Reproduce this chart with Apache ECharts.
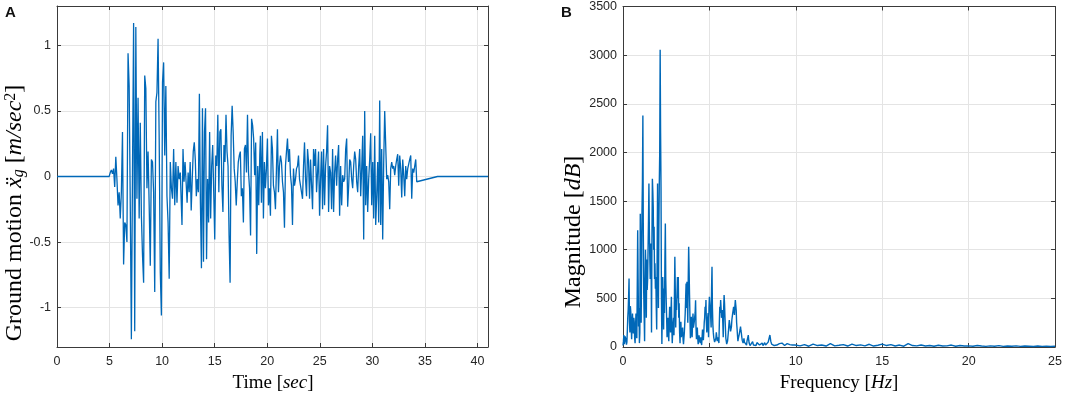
<!DOCTYPE html>
<html>
<head>
<meta charset="utf-8">
<script src="https://cdn.jsdelivr.net/npm/echarts@6/dist/echarts.min.js"></script>
<style>html,body{margin:0;padding:0;background:#fff}#c{width:1065px;height:394px}</style>
</head>
<body>
<div id="c"></div>
<script>
// ---------- Panel A: ground motion (m/sec^2) ----------
const accLeadIn = [[0, 0], [4.96, 0]];
const accSegStarts = [4.96, 11.89, 19.35, 27.08];
const accSegEnds = [11.73, 19.29, 26.98, 34.22];
const accSeg1 = [0.0,0.03,0.05,0.02,0.06,-0.08,0.15,-0.02,-0.22,-0.12,-0.32,-0.12,0.34,-0.67,-0.35,-0.37,-0.50,0.94,0.69,-0.22,-1.24,0.03,1.17,-1.18,1.14,-0.17,0.60,-0.32,0.41,-0.30,-0.60,-0.81,0.77,0.67,-0.09,0.19,-0.22,-0.68,0.13,0.11,-0.12,-0.88,0.57,0.64,1.05,0.29,-0.73,-1.06,0.72,0.87,0.16,0.69,-0.15,-0.35,-0.78,0.11,-0.09,-0.17,0.21,-0.22,0.11,-0.20,0.08,-0.02,0.03];
const accSeg2 = [-0.37,0.21,-0.04,0.11,-0.04,-0.20,0.03,-0.12,0.11,-0.26,-0.02,0.19,0.26,0.13,-0.15,-0.02,-0.12,0.63,-0.20,-0.70,0.52,-0.65,0.34,0.52,-0.63,-0.02,-0.35,0.34,-0.32,0.08,0.24,-0.12,-0.48,0.16,0.08,0.47,-0.12,0.34,0.36,-0.07,-0.27,0.24,0.11,0.47,0.19,0.08,-0.45,-0.81,0.31,0.54,0.34,0.06,-0.04,-0.22,-0.04,0.11,0.16,0.19,-0.15,-0.09,-0.35,0.21,0.24,0.03,0.47,0.03,-0.09,-0.45,0.44,0.39,0.29,0.01,0.26,-0.59,0.08,-0.22,0.16];
const accSeg3 = [0.31,-0.20,0.34,-0.32,0.11,-0.09,0.06,0.29,-0.22,-0.09,-0.30,0.31,0.21,-0.07,-0.12,-0.25,0.06,0.36,-0.12,0.08,0.16,0.11,-0.04,-0.12,-0.39,0.08,0.19,0.29,0.11,0.21,0.01,-0.07,-0.37,0.06,-0.07,-0.02,0.06,0.08,0.16,-0.02,-0.07,-0.12,-0.17,0.08,0.26,-0.02,-0.15,0.21,0.11,-0.17,0.13,0.13,-0.25,0.21,0.08,0.21,-0.12,0.03,0.19,-0.30,-0.02,0.19,-0.25,0.21,-0.22,0.08,0.19,0.39,-0.27,0.08,0.03,-0.25,0.21,-0.27,0.03,0.16,-0.07,0.13,0.24,-0.30,0.08];
const accSeg4 = [-0.22,0.01,-0.04,-0.02,0.21,0.29,-0.23,-0.07,0.13,0.11,-0.02,-0.09,0.08,0.19,0.13,-0.04,-0.12,0.08,0.21,-0.15,0.06,0.31,-0.48,0.50,-0.22,0.08,-0.27,-0.02,0.13,0.33,-0.22,0.11,-0.32,0.31,-0.37,-0.15,0.11,-0.35,0.58,-0.37,0.21,-0.48,0.11,0.50,0.24,-0.02,0.01,-0.04,-0.25,0.06,0.11,0.06,0.08,0.01,0.08,0.13,0.17,-0.07,0.16,0.06,-0.16,0.13,0.01,-0.15,0.08,-0.02,0.06,0.06,0.13,0.16,-0.17,0.06,0.03,0.08,0.13,-0.04];
const accTail = [[34.30, -0.025], [36.2, 0], [41, 0]];
const accTicksY = [-1, -0.5, 0, 0.5, 1];

// ---------- Panel B: Fourier magnitude ----------
const specStepLow = 0.05;   // samples at 0, 0.05, ... 10 Hz
const specLow = [
  15,123,60,95,25,160,380,705,150,363,80,345,140,260,40,345,90,1200,210,40,
  1370,250,1400,2380,550,60,1000,300,585,1000,1680,927,1064,150,1730,1440,1235,860,720,180,
  1680,400,1680,3055,1645,30,720,180,350,1270,480,100,300,60,414,150,517,40,250,120,
  927,200,380,720,720,450,40,260,80,200,30,150,350,653,670,250,1030,534,90,310,
  100,345,180,311,480,80,200,30,120,60,100,20,180,70,250,414,482,150,300,100,
  517,380,200,825,230,100,50,30,150,60,100,40,414,482,300,380,100,534,310,90,
  30,60,160,277,200,140,280,350,414,330,482,380,190,60,110,140,209,140,70,40,
  89,30,60,20,50,123,40,15,35,25,55,20,40,30,15,45,25,35,20,30,
  25,40,15,30,45,20,35,15,50,30,123,60,30,20,40,15,25,35,20,30,
  20,35,15,25,40,20,30,15,25,20,35,15,20,25,30,15,20,25,15,20,
  20
];
const specMidStart = 0.025; // samples at 0.025, 0.075, ... 7.475 Hz
const specMid = [
  60,30,110,70,50,300,520,260,420,200,240,180,300,90,200,120,600,700,400,150,
  900,800,1700,1200,300,700,800,900,700,1300,1200,700,900,1100,1600,1000,700,600,400,900,
  1000,1200,2000,2200,500,400,450,600,900,700,300,250,150,280,300,350,200,150,300,500,
  600,450,550,500,300,150,200,100,120,80,90,250,500,400,450,700,800,300,200,150,
  250,200,260,350,200,120,90,60,80,40,60,90,100,150,300,350,250,200,350,400,
  450,300,600,400,150,80,40,90,110,80,70,250,350,400,300,250,400,450,200,60,
  40,110,220,240,160,210,300,380,360,420,430,250,120,90,130,180,170,100,60,60,
  50,40,30,60,80,70,30,20,40,30
];
const specHighStart = 10.25, specStepHigh = 0.25;  // 10.25 .. 25 Hz
const specHigh = [12,25,8,30,15,20,10,35,12,18,25,10,30,15,22,12,28,10,18,30,15,25,10,20,8,35,15,12,20,10,15,8,18,10,12,20,8,15,10,12,8,15,10,6,12,8,14,6,10,8,12,6,10,8,5,10,6,8,5,8];

// ---------- build data ----------
function seg(start, end, vals) {
  const n = vals.length;
  return vals.map((v, i) => [start + (end - start) * i / (n - 1), v]);
}
const accSegs = [accSeg1, accSeg2, accSeg3, accSeg4];
let accData = accLeadIn.slice();
accSegs.forEach((s, k) => { accData = accData.concat(seg(accSegStarts[k], accSegEnds[k], s)); });
accData = accData.concat(accTail);

const specData = specLow.map((v, i) => [+(i * specStepLow).toFixed(3), v])
  .concat(specMid.map((v, i) => [+(specMidStart + i * specStepLow).toFixed(3), v]))
  .concat(specHigh.map((v, i) => [+(specHighStart + i * specStepHigh).toFixed(3), v]))
  .sort((a, b) => a[0] - b[0]);

// ---------- styles ----------
const AX = '#3a3a3a', GRID = '#e4e4e4', TXT = '#262626', LINE = '#0068B8';
const SANS = '"Liberation Sans", Arial, sans-serif';
const SERIF = '"Liberation Serif", "DejaVu Serif", serif';
const plain = v => String(v);
function xAx(grid, min, max, interval, pos, labels) {
  return {
    type: 'value', gridIndex: grid, min, max, interval, position: pos,
    axisLine: { show: true, onZero: false, lineStyle: { color: AX, width: 1 } },
    axisTick: { show: true, inside: true, length: 4, lineStyle: { color: AX } },
    axisLabel: { show: labels, color: TXT, fontSize: 12.5, fontFamily: SANS, margin: 8, formatter: plain, showMaxLabel: max % interval === 0 },
    splitLine: { show: labels, lineStyle: { color: GRID, width: 1 } }
  };
}
function yAx(grid, min, max, interval, pos, labels, custom) {
  const a = {
    type: 'value', gridIndex: grid, min, max, position: pos,
    axisLine: { show: true, onZero: false, lineStyle: { color: AX, width: 1 } },
    axisTick: { show: true, inside: true, length: 4, lineStyle: { color: AX } },
    axisLabel: { show: labels, color: TXT, fontSize: 12.5, fontFamily: SANS, margin: 6, formatter: plain },
    splitLine: { show: labels, lineStyle: { color: GRID, width: 1 } }
  };
  if (custom) { a.axisTick.customValues = custom; a.axisLabel.customValues = custom; }
  else a.interval = interval;
  return a;
}
function rich(size) {
  return {
    n: { fontFamily: SERIF, fontSize: size, color: TXT },
    i: { fontFamily: SERIF, fontSize: size, fontStyle: 'italic', color: TXT },
    sub: { fontFamily: SERIF, fontSize: Math.round(size * 0.68), fontStyle: 'italic', color: TXT, verticalAlign: 'bottom', padding: [Math.round(size * 0.35), 0, 0, 0] },
    sup: { fontFamily: SERIF, fontSize: Math.round(size * 0.68), color: TXT, verticalAlign: 'top', padding: [0, 0, Math.round(size * 0.35), 0] }
  };
}

const chart = echarts.init(document.getElementById('c'), null, { renderer: 'canvas' });
chart.setOption({
  animation: false,
  backgroundColor: '#fff',
  grid: [
    { left: 57, top: 6, width: 431, height: 341 },
    { left: 623, top: 6, width: 433, height: 341 }
  ],
  xAxis: [
    xAx(0, 0, 41, 5, 'bottom', true),
    xAx(0, 0, 41, 5, 'top', false),
    xAx(1, 0, 25, 5, 'bottom', true),
    xAx(1, 0, 25, 5, 'top', false)
  ],
  yAxis: [
    yAx(0, -1.3, 1.3, 0.5, 'left', true, accTicksY),
    yAx(0, -1.3, 1.3, 0.5, 'right', false, accTicksY),
    yAx(1, 0, 3500, 500, 'left', true, null),
    yAx(1, 0, 3500, 500, 'right', false, null)
  ],
  series: [
    { type: 'line', xAxisIndex: 0, yAxisIndex: 0, data: accData, showSymbol: false, lineStyle: { color: LINE, width: 1.3 }, z: 3 },
    { type: 'line', xAxisIndex: 2, yAxisIndex: 2, data: specData, showSymbol: false, lineStyle: { color: LINE, width: 1.4 }, z: 3 }
  ],
  graphic: [
    { type: 'text', left: 5, top: 5, style: { text: 'A', font: 'bold 15px ' + SANS, fill: '#111' } },
    { type: 'text', left: 561, top: 5, style: { text: 'B', font: 'bold 15px ' + SANS, fill: '#111' } },
    { type: 'text', x: 273, y: 383, style: { text: '{n|Time [}{i|sec}{n|]}', rich: rich(19), align: 'center', verticalAlign: 'middle' } },
    { type: 'text', x: 839, y: 383, style: { text: '{n|Frequency [}{i|Hz}{n|]}', rich: rich(19), align: 'center', verticalAlign: 'middle' } },
    { type: 'text', x: 15, y: 213, rotation: Math.PI / 2, style: { text: '{n|Ground motion }{i|ẍ}{sub|g}{n| [}{i|m/sec}{sup|2}{n|]}', rich: rich(24), align: 'center', verticalAlign: 'middle' } },
    { type: 'text', x: 574, y: 232, rotation: Math.PI / 2, style: { text: '{n|Magnitude [}{i|dB}{n|]}', rich: rich(24), align: 'center', verticalAlign: 'middle' } }
  ]
});
</script>
</body>
</html>
